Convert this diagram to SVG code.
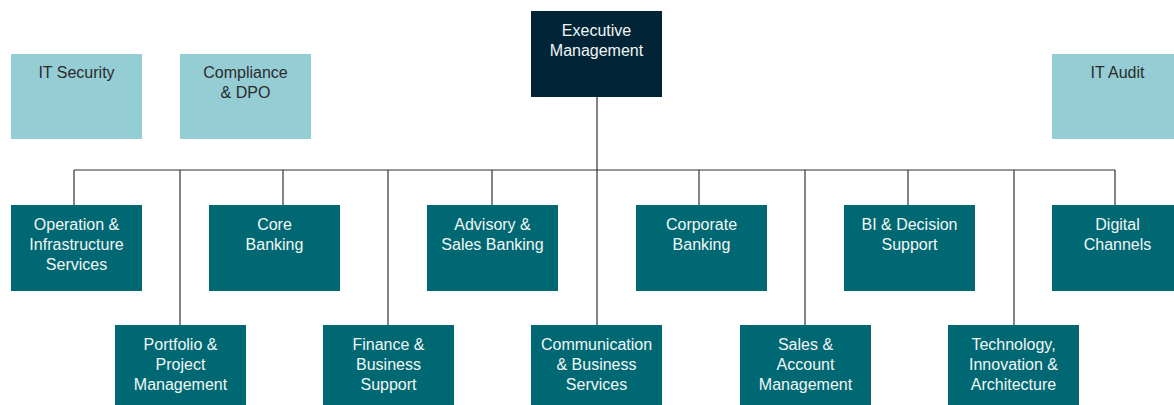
<svg xmlns="http://www.w3.org/2000/svg" width="1174" height="405" viewBox="0 0 1174 405">
<style>
.exec{fill:#012536}
.dept{fill:#006872}
.aux{fill:#95cdd4}
text{font-family:"Liberation Sans",Arial,sans-serif;font-size:16px;text-anchor:middle}
.lt{fill:#f2f6f6}
.dk{fill:#2b2b2b}
.conn{stroke:#333333;stroke-width:1.2;fill:none}
</style>
<rect width="1174" height="405" fill="#ffffff"/>
<g id="connectors">
<path class="conn" d="M597,97V325M74,170H1115M74,170V205M180,170V325M283,170V205M388,170V325M492,170V205M699,170V205M805,170V325M908,170V205M1014,170V325M1115,170V205"/>
</g>
<g id="executive-management"><rect class="exec" x="531" y="11" width="131" height="86"/><text class="lt" x="596.5" y="35.5">Executive</text><text class="lt" x="596.5" y="55.5">Management</text></g>
<g id="it-security"><rect class="aux" x="11" y="54" width="131" height="85"/><text class="dk" x="76.5" y="77.5">IT Security</text></g>
<g id="compliance-dpo"><rect class="aux" x="180" y="54" width="131" height="85"/><text class="dk" x="245.5" y="77.5">Compliance</text><text class="dk" x="245.5" y="97.5">&amp; DPO</text></g>
<g id="it-audit"><rect class="aux" x="1052" y="54" width="131" height="85"/><text class="dk" x="1117.5" y="77.5">IT Audit</text></g>
<g id="operation-infrastructure"><rect class="dept" x="11" y="205" width="131" height="86"/><text class="lt" x="76.5" y="229.5">Operation &amp;</text><text class="lt" x="76.5" y="249.5">Infrastructure</text><text class="lt" x="76.5" y="269.5">Services</text></g>
<g id="core-banking"><rect class="dept" x="209" y="205" width="131" height="86"/><text class="lt" x="274.5" y="229.5">Core</text><text class="lt" x="274.5" y="249.5">Banking</text></g>
<g id="advisory-sales-banking"><rect class="dept" x="427" y="205" width="131" height="86"/><text class="lt" x="492.5" y="229.5">Advisory &amp;</text><text class="lt" x="492.5" y="249.5">Sales Banking</text></g>
<g id="corporate-banking"><rect class="dept" x="636" y="205" width="131" height="86"/><text class="lt" x="701.5" y="229.5">Corporate</text><text class="lt" x="701.5" y="249.5">Banking</text></g>
<g id="bi-decision-support"><rect class="dept" x="844" y="205" width="131" height="86"/><text class="lt" x="909.5" y="229.5">BI &amp; Decision</text><text class="lt" x="909.5" y="249.5">Support</text></g>
<g id="digital-channels"><rect class="dept" x="1052" y="205" width="131" height="86"/><text class="lt" x="1117.5" y="229.5">Digital</text><text class="lt" x="1117.5" y="249.5">Channels</text></g>
<g id="portfolio-project-management"><rect class="dept" x="115" y="325" width="131" height="86"/><text class="lt" x="180.5" y="349.5">Portfolio &amp;</text><text class="lt" x="180.5" y="369.5">Project</text><text class="lt" x="180.5" y="389.5">Management</text></g>
<g id="finance-business-support"><rect class="dept" x="323" y="325" width="131" height="86"/><text class="lt" x="388.5" y="349.5">Finance &amp;</text><text class="lt" x="388.5" y="369.5">Business</text><text class="lt" x="388.5" y="389.5">Support</text></g>
<g id="communication-business-services"><rect class="dept" x="531" y="325" width="131" height="86"/><text class="lt" x="596.5" y="349.5">Communication</text><text class="lt" x="596.5" y="369.5">&amp; Business</text><text class="lt" x="596.5" y="389.5">Services</text></g>
<g id="sales-account-management"><rect class="dept" x="740" y="325" width="131" height="86"/><text class="lt" x="805.5" y="349.5">Sales &amp;</text><text class="lt" x="805.5" y="369.5">Account</text><text class="lt" x="805.5" y="389.5">Management</text></g>
<g id="technology-innovation-architecture"><rect class="dept" x="948" y="325" width="131" height="86"/><text class="lt" x="1013.5" y="349.5">Technology,</text><text class="lt" x="1013.5" y="369.5">Innovation &amp;</text><text class="lt" x="1013.5" y="389.5">Architecture</text></g>
</svg>
